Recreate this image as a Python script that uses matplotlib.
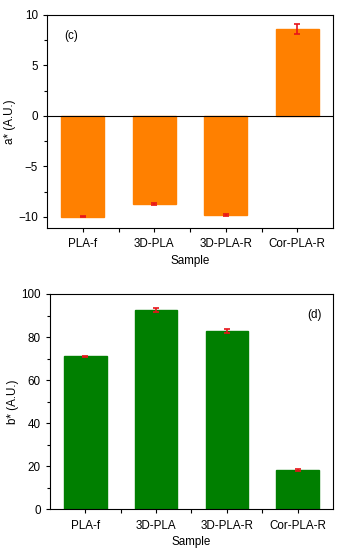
import matplotlib.pyplot as plt
from matplotlib.ticker import MultipleLocator, FixedLocator

plt.rcParams['font.family'] = ['Liberation Sans', 'DejaVu Sans']
plt.rcParams['font.size'] = 8.4

samples = ["PLA-f", "3D-PLA", "3D-PLA-R", "Cor-PLA-R"]
a_star = [-10.0, -8.7, -9.8, 8.6]
a_err = [0.05, 0.12, 0.12, 0.5]
b_star = [71.0, 92.6, 82.9, 18.3]
b_err = [0.3, 1.0, 0.9, 0.3]

pos = list(range(1, len(samples) + 1))

fig = plt.figure(figsize=(3.44, 5.5), dpi=100)
ax1 = fig.add_axes([0.137, 0.5855, 0.831, 0.3873])
ax2 = fig.add_axes([0.145, 0.074, 0.823, 0.3915])


def style(ax):
    ax.set_xlim(0.5, 4.5)
    ax.set_xticks(pos)
    ax.set_xticklabels(samples)
    ax.xaxis.set_minor_locator(FixedLocator([1.5, 2.5, 3.5]))
    ax.tick_params(which='major', length=3, width=0.8, direction='out')
    ax.tick_params(which='minor', length=2, width=0.8, direction='out')
    ax.tick_params(axis='x', which='both', length=3, pad=4.5)
    for s in ax.spines.values():
        s.set_linewidth(0.8)
    ax.set_xlabel("Sample", labelpad=3)


# (c) a*
ax1.bar(pos, a_star, width=0.6, color='#FF8000', edgecolor='#FF8000',
        yerr=a_err, ecolor='#E8141A', capsize=2, error_kw=dict(elinewidth=1.2, capthick=1.2))
ax1.axhline(0, color='black', linewidth=0.8)
ax1.set_ylim(-11.1, 10)
ax1.yaxis.set_major_locator(MultipleLocator(5))
ax1.yaxis.set_minor_locator(MultipleLocator(2.5))
ax1.set_ylabel("a* (A.U.)", labelpad=2)
ax1.text(0.06, 0.93, "(c)", transform=ax1.transAxes, ha='left', va='top')
style(ax1)

# (d) b*
ax2.bar(pos, b_star, width=0.6, color='#007F00', edgecolor='#007F00',
        yerr=b_err, ecolor='#E8141A', capsize=2, error_kw=dict(elinewidth=1.2, capthick=1.2))
ax2.set_ylim(0, 100)
ax2.yaxis.set_major_locator(MultipleLocator(20))
ax2.yaxis.set_minor_locator(MultipleLocator(10))
ax2.set_ylabel("b* (A.U.)", labelpad=2)
ax2.text(0.96, 0.93, "(d)", transform=ax2.transAxes, ha='right', va='top')
style(ax2)

fig.savefig("out.png", dpi=100)
